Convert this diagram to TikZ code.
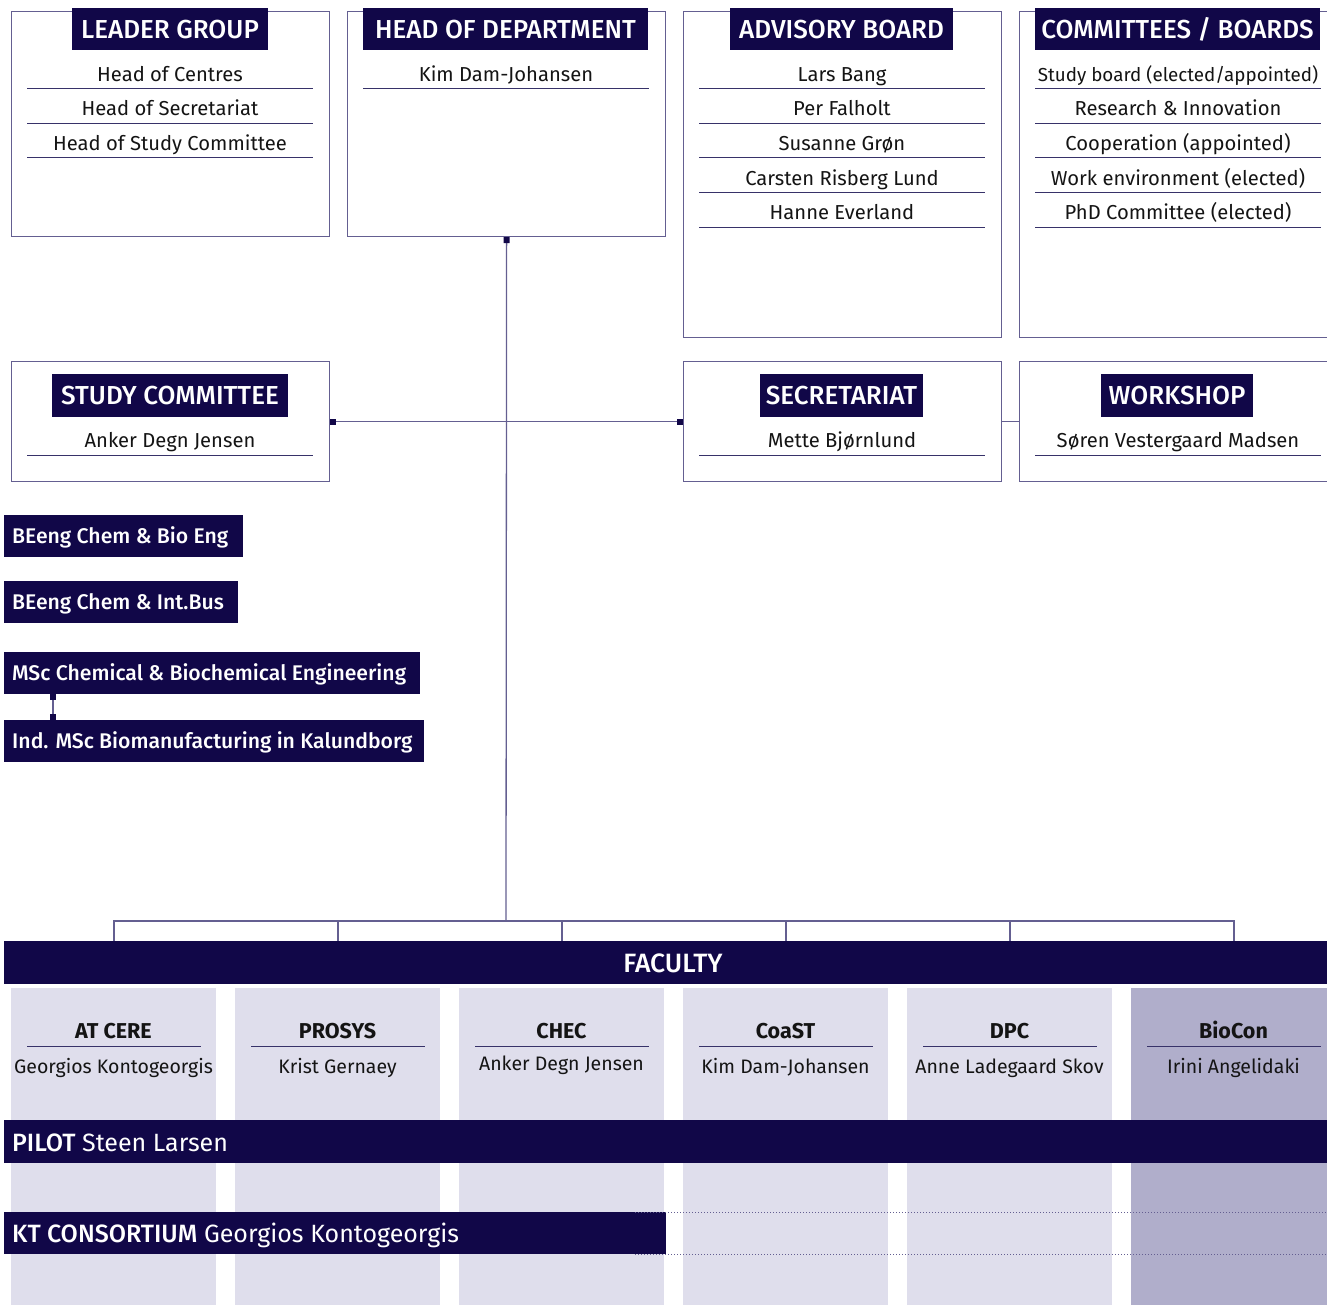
\documentclass[tikz,border=0pt]{standalone}
\usepackage{fontspec}
\setmainfont{Fira Sans}
\newfontfamily\medfam{Fira Sans Medium}
\usetikzlibrary{arrows.meta}
\definecolor{navy}{RGB}{17,7,72}
\definecolor{boxc}{RGB}{100,95,145}
\definecolor{linec}{RGB}{55,50,105}
\definecolor{colA}{RGB}{223,222,236}
\definecolor{colB}{RGB}{176,174,203}
\definecolor{ink}{RGB}{20,20,20}
\newcommand{\regfont}{\fontsize{20.2}{24}\selectfont}
\newcommand{\namefont}{\fontsize{19.5}{24}\selectfont}
\newcommand{\titlefont}{\fontsize{21.5}{24}\selectfont\bfseries}
\newcommand{\tagfont}{\fontsize{26}{30}\selectfont\medfam}
\newcommand{\progfont}{\fontsize{21.2}{24}\selectfont\medfam}
\newcommand{\bigfont}{\fontsize{25}{28}\selectfont}
\newcommand{\facfont}{\fontsize{26.5}{30}\selectfont\medfam}
\begin{document}
\begin{tikzpicture}[x=1pt,y=-1pt,
  box/.style={draw=boxc,line width=1.2pt,anchor=north west,inner sep=0pt,fill=white},
  tagbox/.style={fill=navy,text=white,font=\tagfont,minimum height=42pt,inner sep=0pt,text height=18pt,text depth=0pt},
  item/.style={font=\regfont,anchor=base,text=ink,inner sep=0pt},
  rule/.style={draw=linec,line width=1pt},
  prog/.style={fill=navy,anchor=west,minimum height=42pt,inner sep=0pt},
  progtext/.style={text=white,font=\progfont,anchor=base west,inner sep=0pt},
  conn/.style={draw=boxc,line width=1.3pt},
  sqtip/.tip={Square[length=6pt,width=6pt,color=navy]},
  colbox/.style={anchor=north west,minimum width=205pt,minimum height=330pt,inner sep=0pt},
  bar/.style={fill=navy,anchor=north west,inner sep=0pt},
  bartext/.style={anchor=base west,text=white,font=\bigfont,inner sep=0pt}
]
\useasboundingbox (0,0) rectangle (1327,1304);
\clip (0,0) rectangle (1327,1304);

% ---------- top boxes ----------
\node[box,minimum width=318pt,minimum height=225pt] (lg) at (11,11) {};
\node[box,minimum width=318pt,minimum height=225pt] (hd) at (347,11) {};
\node[box,minimum width=318pt,minimum height=326pt] (ab) at (683,11) {};
\node[box,minimum width=318pt,minimum height=326pt] (cb) at (1019,11) {};

\node[tagbox,minimum width=196pt] (lgt) at (170,29) {LEADER GROUP};
\node[tagbox,minimum width=285pt] (hdt) at (505.5,29) {HEAD OF DEPARTMENT};
\node[tagbox,minimum width=223pt] (abt) at (841.5,29) {ADVISORY BOARD};
\node[tagbox,minimum width=285pt] (cbt) at (1177.5,29) {COMMITTEES / BOARDS};

% leader group items
\node[item] (lg1) at (170,81) {Head of Centres};
\node[item] (lg2) at (170,115) {Head of Secretariat};
\node[item] (lg3) at (170,150) {Head of Study Committee};
\foreach \yy in {88,123,157} \draw[rule] (27,\yy) -- (313,\yy);

% head of department
\node[item] (hd1) at (506,81) {Kim Dam-Johansen};
\draw[rule] (363,88) -- (649,88);

% advisory board
\node[item] (ab1) at (842,81) {Lars Bang};
\node[item] (ab2) at (842,115) {Per Falholt};
\node[item] (ab3) at (842,150) {Susanne Grøn};
\node[item] (ab4) at (842,185) {Carsten Risberg Lund};
\node[item] (ab5) at (842,219) {Hanne Everland};
\foreach \yy in {88,123,157,192,227} \draw[rule] (699,\yy) -- (985,\yy);

% committees / boards
\node[item,font=\fontsize{18.8}{22}\selectfont] (cb1) at (1178,81) {Study board (elected/appointed)};
\node[item] (cb2) at (1178,115) {Research \& Innovation};
\node[item] (cb3) at (1178,150) {Cooperation (appointed)};
\node[item] (cb4) at (1178,185) {Work environment (elected)};
\node[item] (cb5) at (1178,219) {PhD Committee (elected)};
\foreach \yy in {88,123,157,192,227} \draw[rule] (1035,\yy) -- (1321,\yy);

% ---------- second row ----------
\node[box,minimum width=318pt,minimum height=120pt] (sc) at (11,361) {};
\node[box,minimum width=318pt,minimum height=120pt] (sec) at (683,361) {};
\node[box,minimum width=318pt,minimum height=120pt] (ws) at (1019,361) {};

\node[tagbox,minimum width=236pt,minimum height=43pt] (sct) at (170,395.5) {STUDY COMMITTEE};
\node[tagbox,minimum width=163pt,minimum height=43pt] (sect) at (841.5,395.5) {SECRETARIAT};
\node[tagbox,minimum width=152pt,minimum height=43pt] (wst) at (1177,395.5) {WORKSHOP};

\node[item] (sc1) at (170,447) {Anker Degn Jensen};
\node[item] (sec1) at (842,447) {Mette Bjørnlund};
\node[item] (ws1) at (1178,447) {Søren Vestergaard Madsen};
\draw[rule] (27,455) -- (313,455);
\draw[rule] (699,455) -- (985,455);
\draw[rule] (1035,455) -- (1321,455);

% ---------- programmes ----------
\node[prog,minimum width=239pt] (be1) at (4,536) {};
\node[prog,minimum width=234pt] (be2) at (4,602) {};
\node[prog,minimum width=416pt] (msc) at (4,673) {};
\node[prog,minimum width=420pt] (ind) at (4,741) {};
\node[progtext] (be1t) at (12,543.5) {BEeng Chem \& Bio Eng};
\node[progtext] (be2t) at (12,609.5) {BEeng Chem \& Int.Bus};
\node[progtext] (msct) at (12,680.5) {MSc Chemical \& Biochemical Engineering};
\node[progtext] (indt) at (12,748.5) {Ind. MSc Biomanufacturing in Kalundborg};
\draw[conn,sqtip-sqtip] ([xshift=49pt]msc.south west) -- ([xshift=49pt]ind.north west);

% ---------- faculty ----------
\foreach \i/\ttl/\nm/\fc/\ny in {0/AT CERE/Georgios Kontogeorgis/colA/1073,
  1/PROSYS/Krist Gernaey/colA/1073,
  2/CHEC/Anker Degn Jensen/colA/1070,
  3/CoaST/Kim Dam-Johansen/colA/1073,
  4/DPC/Anne Ladegaard Skov/colA/1073,
  5/BioCon/Irini Angelidaki/colB/1073}{
  \pgfmathsetmacro\xl{11+224*\i}
  \node[colbox,fill=\fc] (col\i) at (\xl,988) {};
  \node[font=\titlefont,anchor=base,text=ink,inner sep=0pt] (ct\i) at (\xl+102.5,1038) {\ttl};
  \draw[rule] (\xl+16,1046) -- (\xl+190,1046);
  \node[item,font=\namefont] (cn\i) at (\xl+102.5,\ny) {\nm};
}

\node[bar,minimum width=1338pt,minimum height=43pt] (fac) at (4,941) {};
\node[text=white,font=\facfont,inner sep=0pt] (fact) at (673,963) {FACULTY};

\node[bar,minimum width=1340pt,minimum height=43pt] (pilot) at (4,1120) {};
\node[bartext] (pilott) at (12,1151) {{\medfam PILOT} Steen Larsen};

\node[bar,minimum width=662pt,minimum height=42pt] (kt) at (4,1212) {};
\node[bartext] (ktt) at (12,1242) {{\medfam KT CONSORTIUM} Georgios Kontogeorgis};
\coordinate (kta) at (635,1212);
\coordinate (ktb) at (1327,1212);
\coordinate (ktc) at (635,1254);
\coordinate (ktd) at (1327,1254);
\draw[boxc,dotted,line width=1pt] (kta) -- (ktb);
\draw[boxc,dotted,line width=1pt] (ktc) -- (ktd);

% ---------- connectors ----------
\coordinate (br) at (506,921);
\foreach \k in {0,...,5} \coordinate (b\k) at (114+224*\k,921);
\draw[conn,sqtip-] (hd.south) -- (br);
\draw[conn,sqtip-sqtip] (sc.east) -- (sec.west);
\draw[conn] (sec.east) -- (ws.west);
\draw[conn] (b0 |- fac.north) -- (b0) -- (b5) -- (b5 |- fac.north);
\foreach \k in {1,...,4} \draw[conn] (b\k) -- (b\k |- fac.north);
\end{tikzpicture}
\end{document}
